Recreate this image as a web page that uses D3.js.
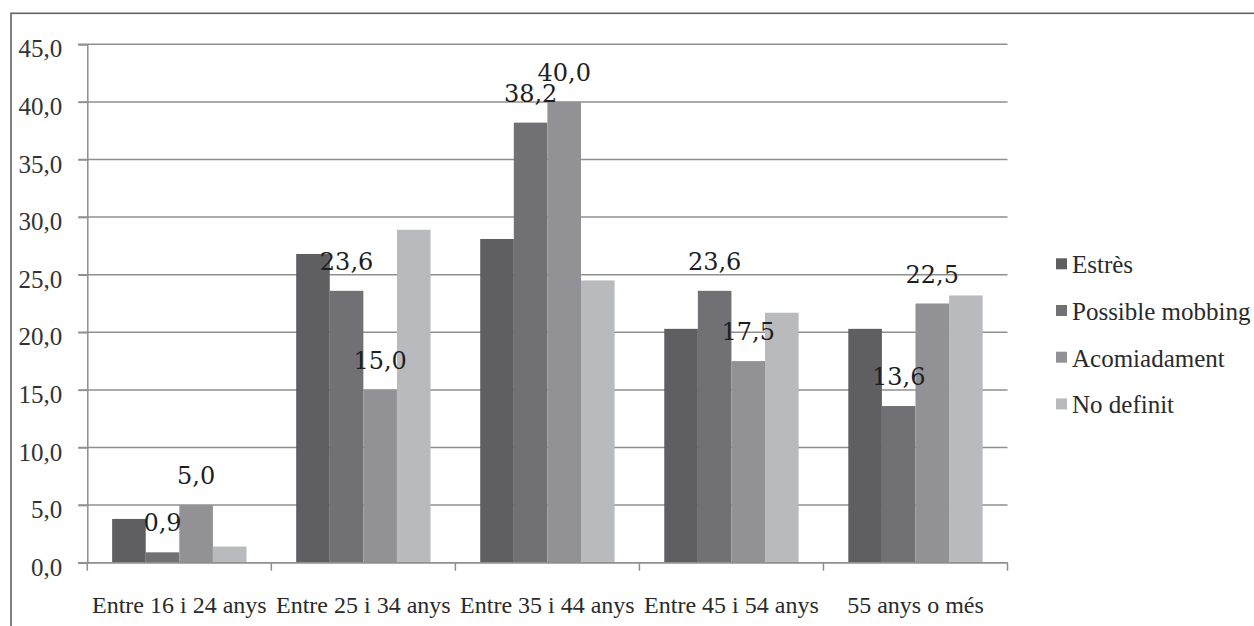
<!DOCTYPE html>
<html>
<head>
<meta charset="utf-8">
<script src="https://cdn.jsdelivr.net/npm/d3@7"></script>
<style>
  html, body { margin: 0; padding: 0; background: #fff; }
  svg { display: block; }
  svg text { font-family: "Liberation Serif", "Times New Roman", serif; }
  svg text.lbl { font-family: "DejaVu Serif", serif; }
</style>
</head>
<body>
<svg id="chart" width="1254" height="626"></svg>
<script>
// ---- Data ----
const categories = ["Entre 16 i 24 anys", "Entre 25 i 34 anys", "Entre 35 i 44 anys", "Entre 45 i 54 anys", "55 anys o més"];
const seriesNames = ["Estrès", "Possible mobbing", "Acomiadament", "No definit"];
const estres = [3.8, 26.8, 28.1, 20.3, 20.3];
const possibleMobbing = [0.9, 23.6, 38.2, 23.6, 13.6];
const acomiadament = [5.0, 15.0, 40.0, 17.5, 22.5];
const noDefinit = [1.4, 28.9, 24.5, 21.7, 23.2];
const yTickValues = [0, 5, 10, 15, 20, 25, 30, 35, 40, 45];
const labeledSeries = ["Possible mobbing", "Acomiadament"];

(function () {
const seriesValues = [estres, possibleMobbing, acomiadament, noDefinit];
const colors = ["#5f5f62", "#717175", "#929296", "#b9babe"];
const serifStyle = size => `font-family: 'Liberation Serif', 'Times New Roman', serif; font-size: ${size}px`;
const labelStyle = size => `font-family: 'DejaVu Serif', serif; font-size: ${size}px`;

const svg = d3.select("#chart");

// outer frame (extends past right/bottom edges)
svg.append("rect")
  .attr("x", 11).attr("y", 13.3)
  .attr("width", 1300).attr("height", 700)
  .attr("fill", "none").attr("stroke", "#616161").attr("stroke-width", 1.6);

const pLeft = 87.3, pRight = 1007.5, pTop = 44.3, pBottom = 562.7;

const x0 = d3.scaleBand().domain(categories).range([pLeft, pRight])
  .paddingInner(0.27).paddingOuter(0.135);
const x1 = d3.scaleBand().domain(seriesNames).range([0, x0.bandwidth()]).padding(0);
const y = d3.scaleLinear().domain([0, 45]).range([pBottom, pTop]);
const color = d3.scaleOrdinal().domain(seriesNames).range(colors);
const fmt = v => d3.format(".1f")(v).replace(".", ",");

// gridlines
svg.append("g").selectAll("line").data(yTickValues).join("line")
  .attr("x1", pLeft - 9).attr("x2", pRight)
  .attr("y1", d => y(d)).attr("y2", d => y(d))
  .attr("stroke", "#8f8f8f").attr("stroke-width", 1.5);

// y axis
const yAxis = svg.append("g").attr("transform", `translate(${pLeft},0)`)
  .call(d3.axisLeft(y).tickValues(yTickValues).tickFormat(fmt).tickSize(9).tickPadding(16));
yAxis.attr("font-family", null).attr("font-size", null);
yAxis.select(".domain").attr("stroke", "#8f8f8f").attr("stroke-width", 1.5);
yAxis.selectAll(".tick line").attr("stroke", "#8f8f8f").attr("stroke-width", 1.5);
yAxis.selectAll("text")
  .attr("style", serifStyle(25))
  .attr("fill", "#333").attr("dy", "0.5em");

// bars
const data = categories.map((c, i) => ({ cat: c, vals: seriesNames.map((s, j) => ({ s, v: seriesValues[j][i] })) }));
const groups = svg.append("g").selectAll("g").data(data).join("g")
  .attr("transform", d => `translate(${x0(d.cat)},0)`);
groups.selectAll("rect").data(d => d.vals).join("rect")
  .attr("x", d => x1(d.s)).attr("width", x1.bandwidth())
  .attr("y", d => y(d.v)).attr("height", d => y(0) - y(d.v))
  .attr("fill", d => color(d.s));

// x axis
svg.append("line").attr("x1", pLeft).attr("x2", pRight).attr("y1", y(0)).attr("y2", y(0))
  .attr("stroke", "#8f8f8f").attr("stroke-width", 1.5);
const boundaries = categories.map(c => x0(c) - x0.step() * x0.paddingInner() / 2).concat([pRight]);
svg.append("g").selectAll("line").data(boundaries).join("line")
  .attr("x1", d => d).attr("x2", d => d).attr("y1", y(0)).attr("y2", y(0) + 8)
  .attr("stroke", "#8f8f8f").attr("stroke-width", 1.5);
svg.append("g").selectAll("text").data(categories).join("text")
  .attr("x", d => x0(d) + x0.bandwidth() / 2).attr("y", 613)
  .attr("text-anchor", "middle")
  .attr("style", serifStyle(24))
  .attr("fill", "#2a2a2a").text(d => d);

// data labels
groups.selectAll("text.lbl").data(d => d.vals.filter(v => labeledSeries.includes(v.s))).join("text")
  .attr("class", "lbl")
  .attr("x", d => x1(d.s) + x1.bandwidth() / 2)
  .attr("y", d => y(d.v) - 21)
  .attr("text-anchor", "middle")
  .attr("style", labelStyle(24))
  .attr("fill", "#1e1e1e").text(d => fmt(d.v));

// legend
const legend = svg.append("g").selectAll("g").data(seriesNames).join("g")
  .attr("transform", (d, i) => `translate(1056,${273.3 + i * 46.7})`);
legend.append("rect").attr("x", 0).attr("y", -15).attr("width", 11).attr("height", 11)
  .attr("fill", d => color(d));
legend.append("text").attr("x", 16).attr("y", 0)
  .attr("style", serifStyle(25))
  .attr("fill", "#2a2a2a").text(d => d);
})();
</script>
</body>
</html>
